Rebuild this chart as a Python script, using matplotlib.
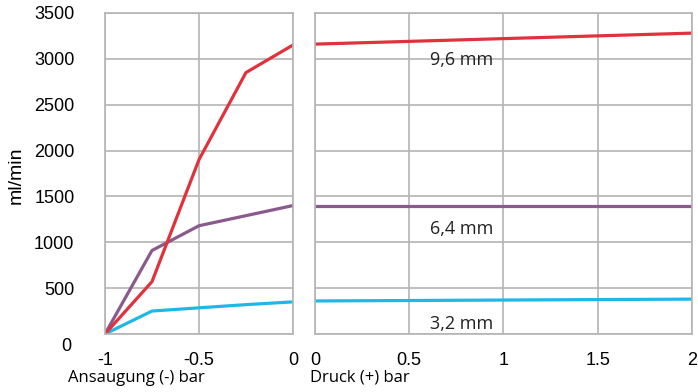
import matplotlib
matplotlib.use("Agg")
import matplotlib.pyplot as plt

# Data
x_suction = [-1, -0.75, -0.5, -0.25, 0]
red_suction = [0, 570, 1900, 2850, 3150]
purple_suction = [0, 910, 1180, 1290, 1400]
cyan_suction = [0, 250, 285, 320, 350]

x_pressure = [0, 2]
red_pressure = [3160, 3280]
purple_pressure = [1400, 1400]
cyan_pressure = [360, 380]

y_ticks = [0, 500, 1000, 1500, 2000, 2500, 3000, 3500]
y_ticklabels = ["", "500", "1000", "1500", "2000", "2500", "3000", "3500"]

labels = ["9,6 mm", "6,4 mm", "3,2 mm"]
label_pos = [(0.78, 2985), (0.78, 1140), (0.78, 105)]

RED = "#e0323c"
PURPLE = "#8a5a8c"
CYAN = "#1fb8e6"
GRID = "#b4b4b4"
TICKFONT = "Liberation Sans"
TEXTFONT = "Open Sans"

fig = plt.figure(figsize=(6.98, 3.92), dpi=100)
ax1 = fig.add_axes([0.1504, 0.148, 0.2693, 0.819])
ax2 = fig.add_axes([0.4513, 0.148, 0.540, 0.819])

lw = 2.3
ax1.plot(x_suction, cyan_suction, color=CYAN, lw=lw, solid_capstyle="butt")
ax1.plot(x_suction, purple_suction, color=PURPLE, lw=lw, solid_capstyle="butt")
ax1.plot(x_suction, red_suction, color=RED, lw=lw, solid_capstyle="butt")

ax2.plot(x_pressure, cyan_pressure, color=CYAN, lw=lw, solid_capstyle="butt")
ax2.plot(x_pressure, purple_pressure, color=PURPLE, lw=lw, solid_capstyle="butt")
ax2.plot(x_pressure, red_pressure, color=RED, lw=lw, solid_capstyle="butt")

for ax in (ax1, ax2):
    ax.set_ylim(0, 3500)
    ax.set_yticks(y_ticks)
    ax.grid(True, color=GRID, lw=1.2)
    ax.set_axisbelow(True)
    for s in ax.spines.values():
        s.set_color(GRID)
        s.set_linewidth(1.2)
    ax.tick_params(length=0, labelsize=13)
    ax.tick_params(axis="x", pad=13)

ax1.set_xlim(-1, 0)
ax1.set_xticks([-1, -0.5, 0])
ax1.set_xticklabels(["-1", "-0.5", "0"], fontfamily=TICKFONT)
ax1.set_yticklabels(y_ticklabels, fontfamily=TICKFONT)
ax1.tick_params(axis="y", pad=22)
# zero label sits a bit below its grid line in the reference
ax1.annotate("0", xy=(0, 0), xycoords="axes fraction", xytext=(-24, -9),
             textcoords="offset points", ha="right", va="center",
             fontfamily=TICKFONT, fontsize=13)

ax2.set_xlim(0, 2)
ax2.set_xticks([0, 0.5, 1, 1.5, 2])
ax2.set_xticklabels(["0", "0.5", "1", "1.5", "2"], fontfamily=TICKFONT)
ax2.tick_params(axis="y", labelleft=False)

fig.text(16 / 698, 1 - 175 / 392, "ml/min", fontfamily=TICKFONT, fontsize=14,
         rotation=90, ha="center", va="center")

fig.text(68 / 698, 1 - 378 / 392, "Ansaugung (-) bar", fontfamily=TEXTFONT,
         fontsize=12, ha="left", va="center")
fig.text(310 / 698, 1 - 378 / 392, "Druck (+) bar", fontfamily=TEXTFONT,
         fontsize=12, ha="left", va="center")

for lab, (lx, ly) in zip(labels, label_pos):
    ax2.text(lx, ly, lab, fontfamily=TEXTFONT, fontsize=13, ha="center",
             va="center", color="#222222")

fig.savefig("out.png", dpi=100)
